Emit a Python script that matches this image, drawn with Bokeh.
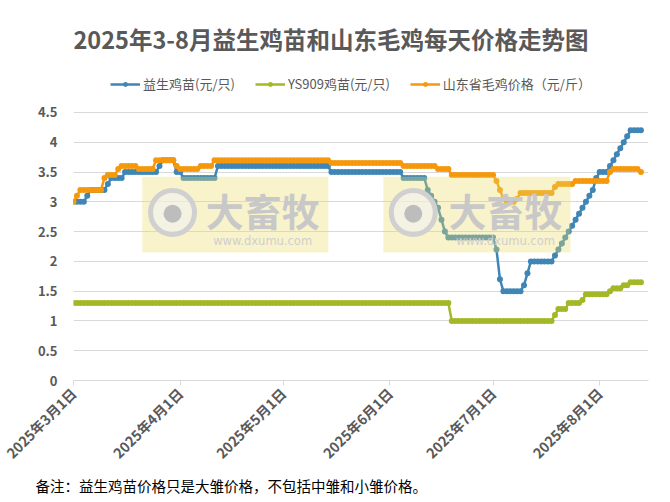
import pandas as pd

from bokeh.core.properties import value
from bokeh.embed import file_html
from bokeh.models import (BoxAnnotation, ColumnDataSource, CustomJSTickFormatter,
                          FixedTicker, Legend, LegendItem, NumeralTickFormatter, Title)
from bokeh.plotting import figure
from bokeh.resources import INLINE

CJK = "Noto Sans CJK SC"
GREY = "#595959"

# price change points (price holds until the next date)
yisheng_dates = ["2025-03-01", "2025-03-05", "2025-03-06", "2025-03-11", "2025-03-12",
                 "2025-03-16", "2025-03-26", "2025-03-27", "2025-03-31", "2025-04-02",
                 "2025-04-12", "2025-05-15", "2025-06-05", "2025-06-12", "2025-06-13",
                 "2025-06-14", "2025-06-15", "2025-06-16", "2025-06-17", "2025-06-18",
                 "2025-07-02", "2025-07-03", "2025-07-04", "2025-07-10", "2025-07-11",
                 "2025-07-12", "2025-07-19", "2025-07-20", "2025-07-21", "2025-07-22",
                 "2025-07-23", "2025-07-24", "2025-07-25", "2025-07-26", "2025-07-27",
                 "2025-07-28", "2025-07-29", "2025-07-30", "2025-07-31", "2025-08-01",
                 "2025-08-04", "2025-08-05", "2025-08-06", "2025-08-07", "2025-08-08",
                 "2025-08-09", "2025-08-10"]
yisheng_prices = [3.0, 3.1, 3.2, 3.3, 3.4,
                  3.5, 3.6, 3.7, 3.5, 3.4,
                  3.6, 3.5, 3.4, 3.2, 3.1,
                  3.0, 2.9, 2.7, 2.5, 2.4,
                  2.2, 1.7, 1.5, 1.6, 1.8,
                  2.0, 2.1, 2.2, 2.3, 2.4,
                  2.5, 2.6, 2.7, 2.8, 2.9,
                  3.0, 3.1, 3.2, 3.4, 3.5,
                  3.6, 3.7, 3.8, 3.9, 4.0,
                  4.1, 4.2]

ys909_dates = ["2025-03-01", "2025-06-19", "2025-07-19", "2025-07-20", "2025-07-23",
               "2025-07-27", "2025-07-28", "2025-08-04", "2025-08-05", "2025-08-08",
               "2025-08-10"]
ys909_prices = [1.3, 1.0, 1.1, 1.2, 1.3,
                1.35, 1.45, 1.5, 1.55, 1.6,
                1.65]

maoji_dates = ["2025-03-01", "2025-03-02", "2025-03-03", "2025-03-10", "2025-03-11",
               "2025-03-14", "2025-03-15", "2025-03-20", "2025-03-25", "2025-03-31",
               "2025-04-01", "2025-04-07", "2025-04-11", "2025-05-15", "2025-06-05",
               "2025-06-15", "2025-06-19", "2025-07-02", "2025-07-03", "2025-07-04",
               "2025-07-05", "2025-07-08", "2025-07-09", "2025-07-19", "2025-07-20",
               "2025-07-25", "2025-08-04", "2025-08-05", "2025-08-13"]
maoji_prices = [3.0, 3.1, 3.2, 3.4, 3.45,
                3.55, 3.6, 3.55, 3.7, 3.6,
                3.55, 3.6, 3.7, 3.65, 3.6,
                3.55, 3.45, 3.35, 3.2, 3.05,
                3.0, 3.05, 3.15, 3.25, 3.3,
                3.35, 3.5, 3.55, 3.5]

first_day = "2025-03-01"
last_day = "2025-08-13"
month_ticks = ["2025-03-01", "2025-04-01", "2025-05-01", "2025-06-01", "2025-07-01", "2025-08-01"]
y_ticks = [0, 0.5, 1, 1.5, 2, 2.5, 3, 3.5, 4, 4.5]

series_names = ["益生鸡苗(元/只)", "YS909鸡苗(元/只)", "山东省毛鸡价格（元/斤）"]
series_colors = ["#3f86b6", "#a4b827", "#f5980c"]

title_text = "2025年3-8月益生鸡苗和山东毛鸡每天价格走势图"
note_text = "备注：益生鸡苗价格只是大雏价格，不包括中雏和小雏价格。"


def daily(dates, prices):
    s = pd.Series(prices, index=pd.to_datetime(dates))
    days = pd.date_range(first_day, last_day, freq="D")
    return s.reindex(days, method="ffill")


yisheng = daily(yisheng_dates, yisheng_prices)
df = pd.DataFrame({"date": yisheng.index,
                   "yisheng": yisheng.values,
                   "ys909": daily(ys909_dates, ys909_prices).values,
                   "maoji": daily(maoji_dates, maoji_prices).values})
source = ColumnDataSource(df)

start = pd.Timestamp(first_day)
# the frame runs above 4.5 so the legend can sit inside it, under the title
p = figure(width=670, height=502, x_axis_type="datetime",
           x_range=(start, start + pd.Timedelta(hours=167.2 * 24)), y_range=(0, 5.373),
           output_backend="svg", toolbar_location=None, tools="",
           min_border_left=73, min_border_right=22, min_border_top=60,
           min_border_bottom=122,
           background_fill_color="white", border_fill_color="white")
p.outline_line_color = None

# watermarks
for left, right in [(20, 74.1), (90.1, 144.5)]:
    p.add_layout(BoxAnnotation(left=start + pd.Timedelta(days=left),
                               right=start + pd.Timedelta(days=right),
                               bottom=2.15, top=3.42, fill_color="#ecdc6a",
                               fill_alpha=0.35, line_color=None))

items = []
for col, name, color in zip(["yisheng", "ys909", "maoji"], series_names, series_colors):
    r1 = p.line("date", col, source=source, line_color=color, line_width=2.5)
    r2 = p.scatter("date", col, source=source, size=6, fill_color=color,
                   line_color=None)
    items.append(LegendItem(label=name, renderers=[r1, r2]))

wm_logo_x = [start + pd.Timedelta(days=28.8), start + pd.Timedelta(days=98.8)]
wm_text_x = [start + pd.Timedelta(days=55), start + pd.Timedelta(days=125.6)]
p.scatter(wm_logo_x, [2.82, 2.82], size=44, fill_color="#f2f2f2", fill_alpha=0.6,
          line_color="#d0d0d0", line_width=5, level="overlay")
p.scatter(wm_logo_x, [2.80, 2.80], size=18, fill_color="#bdbdbd", line_color=None,
          level="overlay")
p.text(wm_text_x, [2.87, 2.87], text=["大畜牧", "大畜牧"], text_font=value(CJK),
       text_font_size="38px", text_font_style="bold", text_color="#c8c8c8",
       text_align="center", text_baseline="middle", level="overlay")
p.text(wm_text_x, [2.35, 2.35], text=["www.dxumu.com", "www.dxumu.com"],
       text_font=value("DejaVu Sans"), text_font_size="11.5px", text_color="#cfcfcf",
       text_align="center", text_baseline="middle", level="overlay")

legend = Legend(items=items, orientation="horizontal", location=(37, 287),
                label_text_font=CJK, label_text_font_size="13px",
                label_text_color=GREY, glyph_width=30, glyph_height=12,
                label_standoff=3, spacing=20, padding=0, margin=0,
                border_line_color=None, background_fill_alpha=0)
p.add_layout(legend)

p.title = Title(text=title_text, align="left", text_font=CJK, text_font_size="23.5px",
                text_font_style="bold", text_color=GREY, vertical_align="bottom")

p.add_layout(Title(text=note_text, align="left", offset=-38, standoff=0,
                   text_font=CJK, text_font_size="14.5px", text_font_style="normal",
                   text_color="#000000"), "below")

p.xgrid.grid_line_color = None
p.ygrid.grid_line_color = "#d9d9d9"
p.ygrid.ticker = FixedTicker(ticks=y_ticks)

p.xaxis.ticker = FixedTicker(ticks=[pd.Timestamp(d).value / 1e6 for d in month_ticks])
p.xaxis.formatter = CustomJSTickFormatter(code="""
    const d = new Date(tick);
    return d.getUTCFullYear() + "年" + (d.getUTCMonth() + 1) + "月" + d.getUTCDate() + "日";
""")
p.xaxis.major_label_orientation = 0.785398
p.xaxis.axis_line_color = "#d9d9d9"
p.xaxis.major_tick_line_color = "#d9d9d9"
p.xaxis.major_tick_out = 5
p.xaxis.major_tick_in = 0
p.xaxis.minor_tick_line_color = None
p.xaxis.major_label_text_font = CJK
p.xaxis.major_label_text_font_size = "14px"
p.xaxis.major_label_text_font_style = "bold"
p.xaxis.major_label_text_color = GREY

p.yaxis.ticker = FixedTicker(ticks=y_ticks)
p.yaxis.formatter = NumeralTickFormatter(format="0.[0]")
p.yaxis.axis_line_color = None
p.yaxis.major_tick_line_color = None
p.yaxis.minor_tick_line_color = None
p.yaxis.major_label_standoff = 10
p.yaxis.major_label_text_font = CJK
p.yaxis.major_label_text_font_size = "13px"
p.yaxis.major_label_text_font_style = "bold"
p.yaxis.major_label_text_color = GREY

open("out.html", "w").write(file_html(p, INLINE))
